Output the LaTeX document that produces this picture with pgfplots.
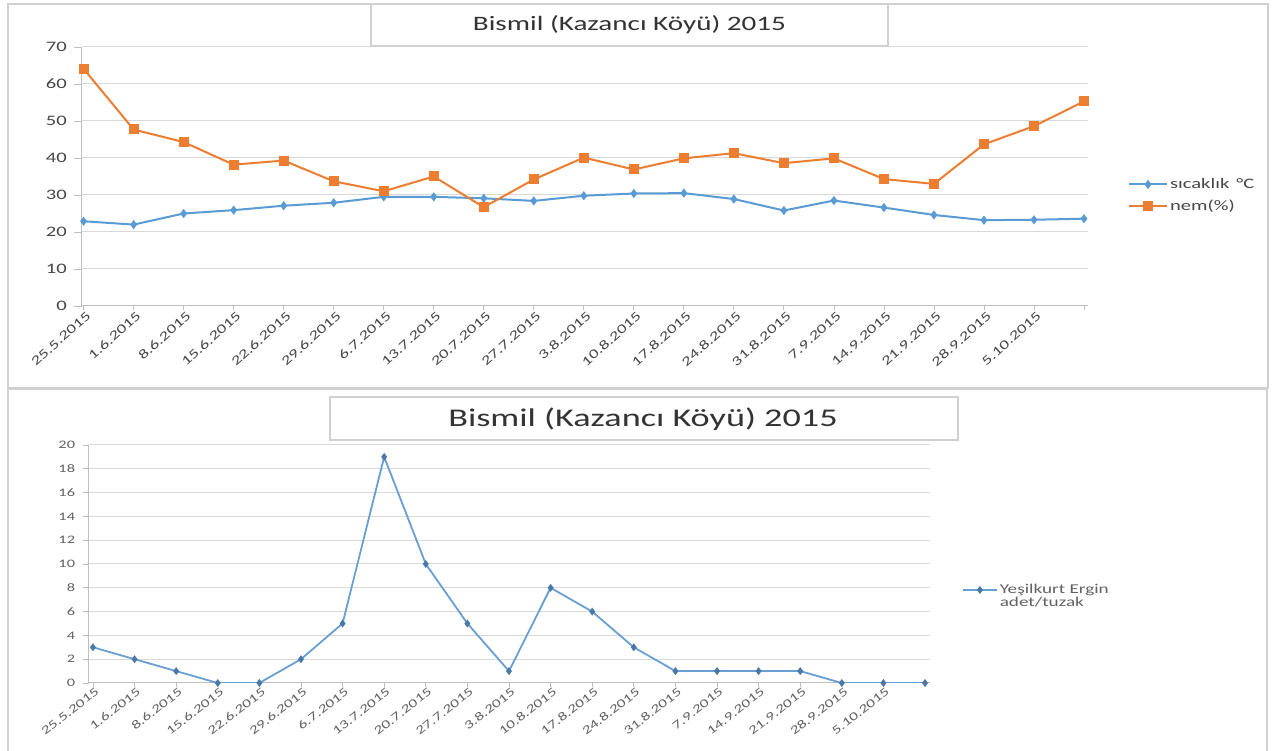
\documentclass[border=0pt]{standalone}
\usepackage{fontspec}
\setmainfont{Carlito}[FakeStretch=1.42]
\usepackage{pgfplots}
\pgfplotsset{compat=1.18}
\definecolor{xblue}{HTML}{5B9BD5}
\definecolor{xblue2}{HTML}{6A9FD2}
\definecolor{xbluem}{HTML}{4A78A8}
\definecolor{xorange}{HTML}{ED7D31}
\definecolor{gridc}{HTML}{D9D9D9}
\definecolor{axc}{HTML}{BFBFBF}
\definecolor{txt}{HTML}{474747}
\definecolor{txtl}{HTML}{626262}
\definecolor{ttl}{HTML}{333333}
\definecolor{framec}{HTML}{D0D0D0}
\pgfplotsset{
  xlstyle/.style={
    scale only axis,
    axis lines*=left,
    axis line style={-, axc, line width=1bp},
    ymajorgrids,
    grid style={gridc, line width=1bp},
    tick align=outside,
    tick style={axc, line width=0.8bp},
    xtick={0,...,20},
    xticklabels={25.5.2015,1.6.2015,8.6.2015,15.6.2015,22.6.2015,29.6.2015,6.7.2015,13.7.2015,20.7.2015,27.7.2015,3.8.2015,10.8.2015,17.8.2015,24.8.2015,31.8.2015,7.9.2015,14.9.2015,21.9.2015,28.9.2015,5.10.2015,{}},
    /pgf/number format/assume math mode=true,
    legend cell align=left,
    legend image code/.code={\draw[mark repeat=2,mark phase=2,##1] plot coordinates {(0bp,0bp) (19bp,0bp) (38bp,0bp)};},
  }
}
\begin{document}
\begin{tikzpicture}[x=1bp,y=1bp]
\useasboundingbox[fill=white] (0,0) rectangle (1272,751);
% frames
\draw[framec, line width=1.2bp] (8,747) rectangle (1268,363);
\draw[framec, line width=1.2bp] (8,-5) -- (8,362) -- (1267,362) -- (1267,-5);

% ---------- top chart ----------
\begin{axis}[xlstyle,
  at={(81.6bp,445bp)}, anchor=south west,
  width=1006.4bp, height=259bp,
  xmin=-0.04, xmax=20.08, ymin=0, ymax=70,
  ytick={0,10,...,70},
  ytick style={/pgfplots/major tick length=8bp},
  xtick style={/pgfplots/major tick length=4bp},
  yticklabel style={font=\fontsize{14.5bp}{17bp}\selectfont, text=txt, xshift=-7bp},
  xticklabel style={font=\fontsize{13bp}{16bp}\selectfont, text=txt, rotate=42, anchor=east, xshift=5bp, yshift=-6bp},
  legend style={at={(1.0398,0.4266)}, anchor=west, draw=none, fill=none, inner sep=0pt, outer sep=0pt, row sep=6bp,
    font=\fontsize{14.5bp}{17bp}\selectfont, text=txt},
]
\addplot[xblue, line width=2bp, mark=diamond*, mark size=3bp, mark options={solid, fill=xblue}] coordinates {
(0,22.9) (1,22.0) (2,25.0) (3,25.9) (4,27.1) (5,27.9) (6,29.5) (7,29.5) (8,29.1) (9,28.4) (10,29.8)
(11,30.4) (12,30.5) (13,28.9) (14,25.8) (15,28.5) (16,26.6) (17,24.6) (18,23.2) (19,23.3) (20,23.6)};
\addlegendentry{sıcaklık \,°C}
\addplot[xorange, line width=2bp, mark=square*, mark size=4bp, mark options={solid, fill=xorange}] coordinates {
(0,64.1) (1,47.7) (2,44.3) (3,38.2) (4,39.3) (5,33.7) (6,31.0) (7,35.0) (8,26.7) (9,34.2) (10,40.1)
(11,36.9) (12,39.9) (13,41.3) (14,38.6) (15,39.9) (16,34.3) (17,33.0) (18,43.7) (19,48.6) (20,55.3)};
\addlegendentry{nem(\%)}
\end{axis}
\draw[framec, line width=1.2bp, fill=white] (371,747) rectangle (888,705);
\node[font=\fontsize{20.5bp}{24bp}\selectfont, text=ttl] at (629.5,726) {Bismil (Kazancı Köyü) 2015};

% ---------- bottom chart ----------
\begin{axis}[xlstyle,
  at={(88.8bp,68bp)}, anchor=south west,
  width=841.2bp, height=238bp,
  xmin=-0.1, xmax=20.12, ymin=0, ymax=20,
  ytick={0,2,...,20},
  ytick style={/pgfplots/major tick length=6bp},
  xtick style={/pgfplots/major tick length=4bp},
  yticklabel style={font=\fontsize{11.5bp}{13bp}\selectfont, text=txtl, xshift=-6bp},
  xticklabel style={font=\fontsize{12bp}{14bp}\selectfont, text=txtl, rotate=38, anchor=east, xshift=5bp, yshift=-5bp},
  legend style={at={(1.038,0.391)}, anchor=west, draw=none, fill=none, inner sep=0pt, outer sep=0pt,
    font=\fontsize{13.5bp}{13.5bp}\selectfont, text=txtl},
  legend image code/.code={\draw[mark repeat=2,mark phase=2,#1] plot coordinates {(0bp,0bp) (17bp,0bp) (34bp,0bp)};},
]
\addplot[xblue2, line width=1.8bp, mark=diamond*, mark size=2.5bp, mark options={solid, fill=xbluem, draw=xbluem}] coordinates {
(0,3) (1,2) (2,1) (3,0) (4,0) (5,2) (6,5) (7,19) (8,10) (9,5) (10,1)
(11,8) (12,6) (13,3) (14,1) (15,1) (16,1) (17,1) (18,0) (19,0) (20,0)};
\addlegendentry{\raisebox{-0.3em}[0pt][0pt]{\parbox[t]{9em}{Yeşilkurt Ergin\newline adet/tuzak}}}
\end{axis}
\draw[framec, line width=1.2bp, fill=white] (330,354) rectangle (958,311);
\node[font=\fontsize{25.5bp}{30bp}\selectfont, text=ttl] at (643,332) {Bismil (Kazancı Köyü) 2015};
\end{tikzpicture}
\end{document}
